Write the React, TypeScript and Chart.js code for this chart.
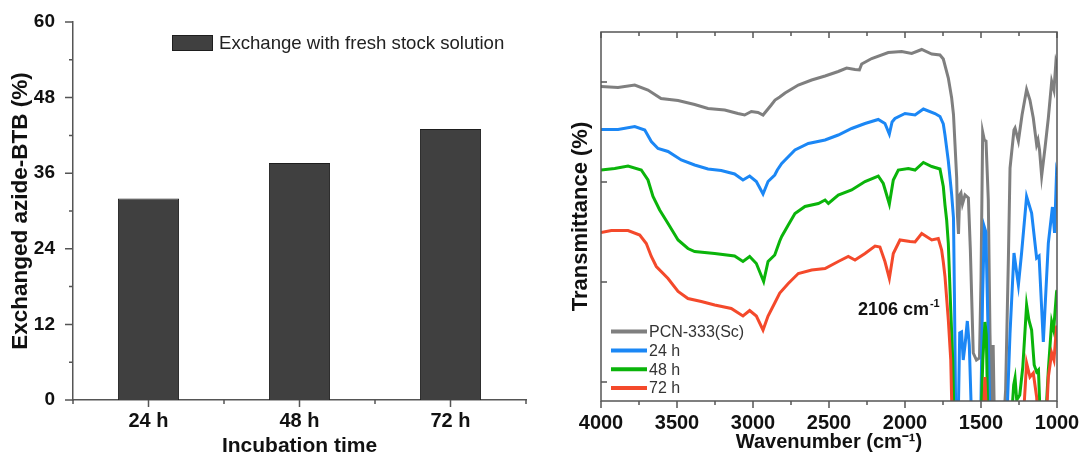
import React, { useEffect, useRef } from "react";
import { Chart, registerables } from "chart.js";

Chart.register(...registerables);

// ---------- Left panel data ----------
const incubationLabels = ["24 h", "48 h", "72 h"];
const exchangedValues = [32, 37.6, 43];
const barMajorTicks = [0, 12, 24, 36, 48, 60];
const barMinorTicks = [6, 18, 30, 42, 54];
const barLegendLabel = "Exchange with fresh stock solution";

// ---------- Right panel data ----------
const wnMajorTicks = [4000, 3500, 3000, 2500, 2000, 1500, 1000];
const wnMinorTicks = [3750, 3250, 2750, 2250, 1750, 1250];
const transTicks = [0, 20, 40, 60];
const seriesNames = ["PCN-333(Sc)", "24 h", "48 h", "72 h"];
const seriesColors = ["#7f7f7f", "#1b87f5", "#0ab40a", "#f4492b"];

const pcnWn = [4000, 3888, 3778, 3691, 3605, 3493, 3384, 3296, 3186, 3099, 3055, 3011, 2967, 2934, 2880, 2855, 2824, 2789, 2702, 2614, 2526, 2439, 2384, 2329, 2300, 2285, 2219, 2110, 2022, 1956, 1890, 1824, 1770, 1748, 1715, 1693, 1681, 1671, 1660, 1655, 1648, 1640, 1632, 1622, 1605, 1583, 1570, 1551, 1530, 1510, 1500, 1489, 1478, 1467, 1452, 1441, 1430, 1420, 1412, 1350, 1338, 1320, 1309, 1283, 1276, 1254, 1230, 1200, 1178, 1156, 1134, 1125, 1115, 1101, 1079, 1057, 1035, 1020, 1007, 1000];
const pcnT = [59.1, 58.9, 59.4, 58.4, 56.7, 56.3, 55.5, 54.7, 54.4, 53.7, 53.4, 54.1, 53.9, 53.4, 55.4, 56.4, 57.0, 57.8, 59.4, 60.4, 61.2, 62.1, 62.8, 62.5, 62.4, 63.6, 64.7, 65.9, 66.1, 65.7, 66.5, 65.6, 65.4, 64.6, 60.8, 56.8, 53.5, 47.5, 40.8, 33.4, 29.6, 37.4, 37.8, 35.6, 37.4, 36.8, 26.4, 5.8, 4.4, 4.8, 20.4, 50.0, 48.4, 48.2, 36.4, 9.8, -7.6, 7.4, -7.6, -7.6, -1.6, 24.4, 42.8, 50.4, 50.8, 48.2, 53.4, 58.5, 56.4, 52.8, 47.5, 48.4, 46.4, 41.2, 46.8, 52.8, 60.1, 58.4, 64.1, 63.4];

const h24Wn = [4000, 3888, 3778, 3712, 3669, 3625, 3559, 3472, 3384, 3296, 3209, 3121, 3066, 3022, 2978, 2934, 2901, 2857, 2840, 2811, 2724, 2636, 2526, 2439, 2351, 2263, 2176, 2132, 2103, 2085, 2066, 2000, 1934, 1879, 1803, 1770, 1748, 1737, 1715, 1693, 1681, 1675, 1666, 1650, 1640, 1628, 1617, 1605, 1590, 1577, 1562, 1502, 1490, 1478, 1468, 1458, 1441, 1330, 1309, 1283, 1254, 1233, 1200, 1167, 1134, 1118, 1090, 1057, 1030, 1016, 1003, 1000];
const h24T = [50.5, 50.5, 51.1, 50.4, 48.1, 46.7, 46.1, 44.4, 43.4, 42.6, 42.3, 41.6, 40.4, 41.2, 40.1, 37.6, 40.1, 41.4, 42.4, 43.7, 46.4, 47.7, 48.4, 49.4, 50.7, 51.7, 52.5, 51.7, 49.6, 52.0, 52.7, 53.7, 53.4, 54.6, 53.7, 53.1, 51.6, 49.4, 44.2, 37.5, 32.8, 17.8, -7.6, -7.6, 9.8, 10.0, 4.4, 7.4, 12.2, 7.4, -7.6, -7.6, 16.4, 31.0, 30.0, 16.4, -7.6, -7.6, 9.8, 25.8, 19.4, 25.8, 37.1, 33.8, 24.8, 25.2, 8.0, 27.8, 35.0, 29.8, 41.8, 41.4];

const h48Wn = [4000, 3910, 3822, 3735, 3691, 3658, 3614, 3559, 3493, 3428, 3384, 3252, 3121, 3066, 3022, 2978, 2930, 2901, 2857, 2824, 2811, 2768, 2724, 2658, 2570, 2526, 2504, 2439, 2351, 2263, 2176, 2143, 2103, 2077, 2044, 1978, 1934, 1879, 1824, 1770, 1748, 1737, 1726, 1715, 1699, 1686, 1678, 1500, 1488, 1474, 1465, 1455, 1300, 1285, 1276, 1265, 1245, 1225, 1200, 1185, 1167, 1150, 1134, 1122, 1110, 1075, 1057, 1035, 1022, 1003, 1000];
const h48T = [42.4, 42.7, 43.2, 42.4, 40.4, 37.1, 34.4, 31.7, 28.4, 26.7, 26.1, 25.7, 25.2, 24.1, 25.1, 23.7, 20.1, 24.1, 25.4, 28.2, 29.1, 31.4, 33.7, 35.1, 35.7, 36.4, 35.7, 37.4, 38.4, 40.1, 41.2, 39.7, 35.6, 40.4, 42.4, 42.7, 42.4, 43.9, 43.1, 42.6, 39.1, 35.4, 32.4, 27.7, 14.4, 4.4, -7.6, -7.6, 4.4, 12.0, 9.4, -7.6, -7.6, -0.6, 0.8, -3.6, -2.6, 3.0, 15.4, 12.4, 10.4, 3.4, 2.0, 2.4, -7.6, -7.6, 2.4, 12.0, 10.4, 18.0, 18.4];

const h72Wn = [4000, 3932, 3822, 3745, 3702, 3669, 3636, 3559, 3493, 3428, 3340, 3252, 3143, 3066, 3022, 2978, 2934, 2901, 2857, 2824, 2768, 2702, 2614, 2526, 2439, 2373, 2329, 2263, 2197, 2165, 2132, 2103, 2077, 2033, 1967, 1934, 1890, 1824, 1781, 1759, 1748, 1737, 1715, 1699, 1690, 1485, 1474, 1463, 1222, 1200, 1178, 1156, 1134, 1125, 1070, 1057, 1035, 1020, 1003, 1000];
const h72T = [29.9, 30.3, 30.3, 29.4, 27.7, 25.1, 23.1, 20.7, 18.1, 16.7, 16.1, 15.4, 14.7, 13.2, 14.3, 13.2, 10.4, 13.2, 15.8, 17.8, 19.7, 21.7, 22.4, 22.7, 24.1, 25.1, 24.4, 25.7, 27.2, 27.0, 24.1, 20.7, 25.7, 28.4, 28.1, 28.0, 29.7, 28.4, 28.7, 26.4, 24.0, 21.1, 12.4, 4.4, -7.6, -7.6, 1.0, -7.6, -7.6, 3.8, 1.0, 1.8, -3.0, -7.6, -7.6, 1.0, 5.8, 4.4, 11.0, 11.0];

const peakLabel = "2106 cm";
const peakLabelSup = "-1";
const peakLabelWn = 2310;
const peakLabelT = 13.4;

const FONT = "'Liberation Sans', Arial, sans-serif";
const AXIS = "#555555";
const TEXT = "#111111";
const BAR = "#404040";

const leftDecor = {
  id: "leftDecor",
  afterDraw(chart: any) {
    const { ctx, chartArea: a, scales } = chart;
    const xs = scales.x;
    const ys = scales.y;
    ctx.save();
    ctx.strokeStyle = AXIS;
    ctx.lineWidth = 1.5;
    ctx.beginPath();
    for (const v of barMajorTicks) {
      const py = ys.getPixelForValue(v);
      ctx.moveTo(a.left - 8, py);
      ctx.lineTo(a.left, py);
    }
    for (const v of barMinorTicks) {
      const py = ys.getPixelForValue(v);
      ctx.moveTo(a.left - 4, py);
      ctx.lineTo(a.left, py);
    }
    for (let i = 0; i < incubationLabels.length; i++) {
      const px = xs.getPixelForValue(i);
      ctx.moveTo(px, a.bottom);
      ctx.lineTo(px, a.bottom + 7);
    }
    for (let i = 0; i <= incubationLabels.length; i++) {
      const px = xs.getPixelForValue(i - 0.5);
      ctx.moveTo(px, a.bottom);
      ctx.lineTo(px, a.bottom + 4);
    }
    ctx.stroke();
    // legend
    const bx = a.left + 99;
    const by = a.top + 13;
    ctx.fillStyle = BAR;
    ctx.fillRect(bx, by, 41, 16);
    ctx.strokeStyle = "#1e1e1e";
    ctx.lineWidth = 1;
    ctx.strokeRect(bx + 0.5, by + 0.5, 40, 15);
    ctx.fillStyle = "#222222";
    ctx.font = `18.6px ${FONT}`;
    ctx.textBaseline = "middle";
    ctx.textAlign = "left";
    ctx.fillText(barLegendLabel, a.left + 146, a.top + 22);
    ctx.restore();
  },
};

const rightDecor = {
  id: "rightDecor",
  afterDraw(chart: any) {
    const { ctx, chartArea: a, scales } = chart;
    const xs = scales.x;
    const ys = scales.y;
    ctx.save();
    ctx.strokeStyle = AXIS;
    ctx.lineWidth = 1.5;
    ctx.strokeRect(a.left, a.top, a.right - a.left, a.bottom - a.top);
    ctx.beginPath();
    for (const w of wnMajorTicks) {
      const px = xs.getPixelForValue(w);
      ctx.moveTo(px, a.bottom);
      ctx.lineTo(px, a.bottom + 7);
      ctx.moveTo(px, a.top);
      ctx.lineTo(px, a.top + 6);
    }
    for (const w of wnMinorTicks) {
      const px = xs.getPixelForValue(w);
      ctx.moveTo(px, a.bottom);
      ctx.lineTo(px, a.bottom + 4);
      ctx.moveTo(px, a.top);
      ctx.lineTo(px, a.top + 4);
    }
    for (const t of transTicks) {
      const py = ys.getPixelForValue(t);
      ctx.moveTo(a.left, py);
      ctx.lineTo(a.left + 6, py);
    }
    ctx.stroke();

    // legend
    const ds = chart.data.datasets;
    ctx.font = `16px ${FONT}`;
    ctx.textBaseline = "middle";
    ctx.textAlign = "left";
    ds.forEach((d: any, i: number) => {
      const yy = a.bottom - 13 - (ds.length - 1 - i) * 18.8;
      ctx.strokeStyle = d.borderColor;
      ctx.lineWidth = 4;
      ctx.beginPath();
      ctx.moveTo(a.left + 10, yy);
      ctx.lineTo(a.left + 46, yy);
      ctx.stroke();
      ctx.fillStyle = "#333333";
      ctx.fillText(d.label, a.left + 48, yy + 1);
    });

    // annotation
    const tx = xs.getPixelForValue(peakLabelWn);
    const ty = ys.getPixelForValue(peakLabelT);
    ctx.fillStyle = TEXT;
    ctx.textBaseline = "alphabetic";
    ctx.font = `bold 18px ${FONT}`;
    ctx.fillText(peakLabel, tx, ty);
    const w = ctx.measureText(peakLabel).width;
    ctx.font = `bold 11px ${FONT}`;
    ctx.fillText(peakLabelSup, tx + w + 1, ty - 8);
    ctx.restore();
  },
};

export default function App() {
  const leftRef = useRef<HTMLCanvasElement>(null);
  const rightRef = useRef<HTMLCanvasElement>(null);

  useEffect(() => {
    const left = new Chart(leftRef.current as HTMLCanvasElement, {
      type: "bar",
      data: {
        labels: incubationLabels,
        datasets: [
          {
            label: barLegendLabel,
            data: exchangedValues,
            backgroundColor: BAR,
            borderColor: "#1e1e1e",
            borderWidth: 1,
            barPercentage: 0.405,
            categoryPercentage: 1,
          },
        ],
      },
      options: {
        animation: false,
        responsive: true,
        maintainAspectRatio: false,
        layout: { padding: { top: 22, right: 29, bottom: 0, left: 0 } },
        plugins: { legend: { display: false }, tooltip: { enabled: false } },
        scales: {
          x: {
            type: "category",
            offset: true,
            grid: { display: false, drawTicks: true, tickLength: 9 },
            border: { display: true, color: AXIS, width: 1.5 },
            ticks: {
              color: TEXT,
              padding: 0,
              maxRotation: 0,
              font: { family: FONT, size: 20, weight: "bold" },
            },
            title: {
              display: true,
              text: "Incubation time",
              color: TEXT,
              font: { family: FONT, size: 21, weight: "bold" },
              padding: { top: 0, bottom: 1 },
            },
            afterFit: (s: any) => {
              s.height = 60;
            },
          },
          y: {
            min: 0,
            max: 60,
            grid: { display: false, drawTicks: true, tickLength: 18 },
            border: { display: true, color: AXIS, width: 1.5 },
            ticks: {
              stepSize: 12,
              color: TEXT,
              padding: 0,
              font: { family: FONT, size: 19, weight: "bold" },
            },
            title: {
              display: true,
              text: "Exchanged azide-BTB (%)",
              color: TEXT,
              font: { family: FONT, size: 22.5, weight: "bold" },
              padding: { top: 7, bottom: 0 },
            },
            afterFit: (s: any) => {
              s.width = 73;
            },
          },
        },
      },
      plugins: [leftDecor],
    } as any);

    const wnArrays = [pcnWn, h24Wn, h48Wn, h72Wn];
    const tArrays = [pcnT, h24T, h48T, h72T];
    const right = new Chart(rightRef.current as HTMLCanvasElement, {
      type: "line",
      data: {
        datasets: seriesNames.map((name, i) => ({
          label: name,
          data: wnArrays[i].map((w, j) => ({ x: w, y: tArrays[i][j] })),
          borderColor: seriesColors[i],
          backgroundColor: seriesColors[i],
          borderWidth: 3,
          pointRadius: 0,
          tension: 0,
          fill: false,
          clip: 0,
          order: seriesNames.length - 1 - i,
        })),
      },
      options: {
        animation: false,
        responsive: true,
        maintainAspectRatio: false,
        layout: { padding: { top: 32, right: 26, bottom: 0, left: 0 } },
        plugins: { legend: { display: false }, tooltip: { enabled: false } },
        scales: {
          x: {
            type: "linear",
            reverse: true,
            min: 1000,
            max: 4000,
            grid: { display: false, drawTicks: true, tickLength: 10 },
            border: { display: false },
            ticks: {
              stepSize: 500,
              autoSkip: false,
              maxRotation: 0,
              color: TEXT,
              padding: 0,
              font: { family: FONT, size: 20, weight: "bold" },
              callback: (v: any) => String(v),
            },
            title: {
              display: true,
              text: "Wavenumber (cm\u207B\u00B9)",
              color: TEXT,
              font: { family: FONT, size: 20, weight: "bold" },
              padding: { top: 0, bottom: 6 },
            },
            afterFit: (s: any) => {
              s.height = 59;
            },
          },
          y: {
            min: -3.8,
            max: 70,
            grid: { display: false, drawTicks: false },
            border: { display: false },
            ticks: { display: false, padding: 0 },
            title: {
              display: true,
              text: "Transmittance (%)",
              color: TEXT,
              font: { family: FONT, size: 22, weight: "bold" },
              padding: { top: 13, bottom: 0 },
            },
            afterFit: (s: any) => {
              s.width = 46;
            },
          },
        },
      },
      plugins: [rightDecor],
    } as any);

    return () => {
      left.destroy();
      right.destroy();
    };
  }, []);

  return (
    <div style={{ position: "fixed", left: 0, top: 0, width: 1083, height: 460, background: "#ffffff" }}>
      <div style={{ position: "absolute", left: 0, top: 0, width: 555, height: 460 }}>
        <canvas ref={leftRef} />
      </div>
      <div style={{ position: "absolute", left: 555, top: 0, width: 528, height: 460 }}>
        <canvas ref={rightRef} />
      </div>
    </div>
  );
}
